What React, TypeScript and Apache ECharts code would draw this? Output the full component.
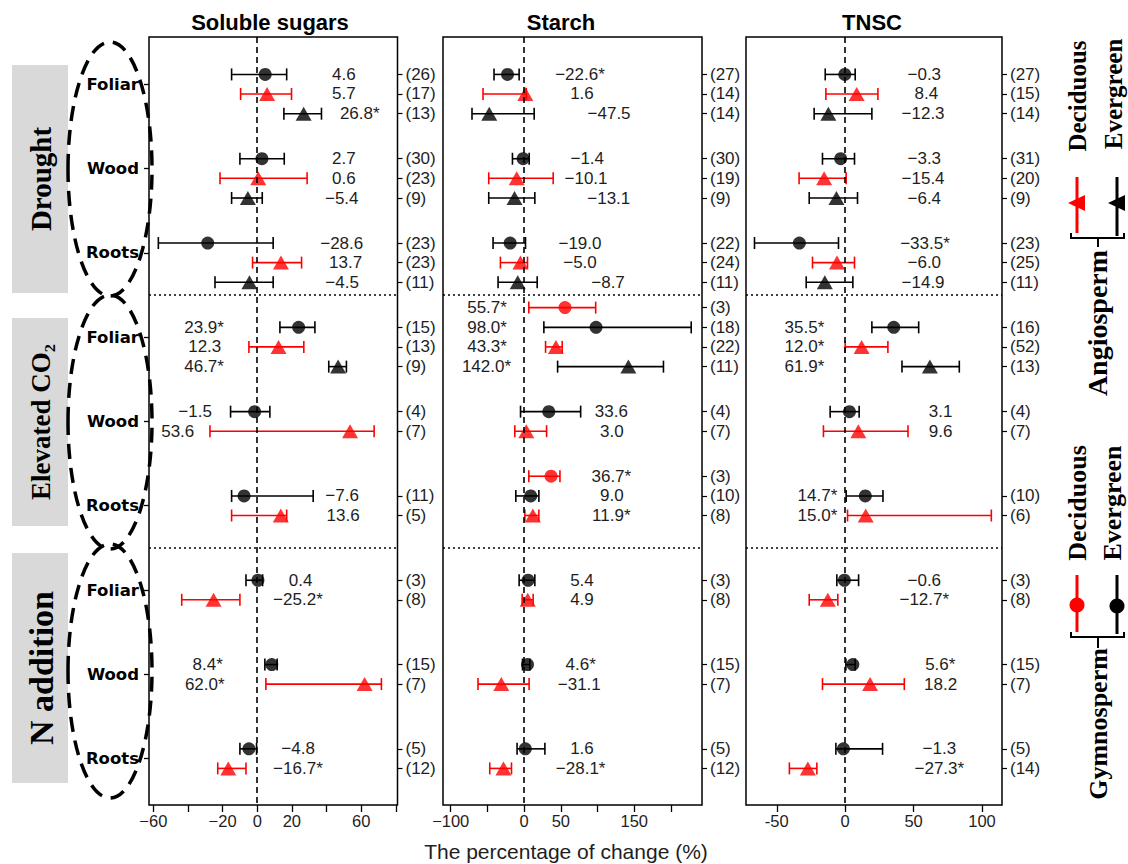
import React, { useEffect, useRef } from 'react';
import * as echarts from 'echarts';

// ---------------- DATA ----------------
const PANEL_TITLES = ['Soluble sugars', 'Starch', 'TNSC'];
const ORGAN_LABELS = ['Foliar', 'Wood', 'Roots', 'Foliar', 'Wood', 'Roots', 'Foliar', 'Wood', 'Roots'];
const TREATMENTS = ['Drought', 'Elevated CO\u2082', 'N addition'];
const X_AXIS_NAME = 'The percentage of change (%)';

// plant types: gd gymnosperm deciduous, ge gymnosperm evergreen, ad angiosperm deciduous, ae angiosperm evergreen
// Soluble sugars
const sugarGroup = [0, 0, 0, 1, 1, 1, 2, 2, 2, 3, 3, 3, 4, 4, 5, 5, 6, 6, 7, 7, 8, 8];
const sugarType = ['ge', 'ad', 'ae', 'ge', 'ad', 'ae', 'ge', 'ad', 'ae', 'ge', 'ad', 'ae', 'ge', 'ad', 'ge', 'ad', 'ge', 'ad', 'ge', 'ad', 'ge', 'ad'];
const sugarMean = [4.6, 5.7, 26.8, 2.7, 0.6, -5.4, -28.6, 13.7, -4.5, 23.9, 12.3, 46.7, -1.5, 53.6, -7.6, 13.6, 0.4, -25.2, 8.4, 62.0, -4.8, -16.7];
const sugarLow = [-14.8, -9.6, 15.4, -10.0, -21.5, -14.8, -57.1, -2.7, -24.4, 13.1, -4.8, 41.3, -15.4, -27.3, -14.8, -14.8, -6.5, -43.6, 4.4, 5.0, -10.0, -22.8];
const sugarHigh = [17.0, 19.8, 37.1, 15.6, 28.8, 2.9, 9.2, 25.6, 9.2, 33.3, 26.9, 51.5, 7.3, 67.5, 32.3, 17.0, 3.1, -10.0, 11.5, 71.7, -0.4, -6.5];
const sugarSig = [0, 0, 1, 0, 0, 0, 0, 0, 0, 1, 0, 1, 0, 0, 0, 0, 0, 1, 1, 1, 0, 1];
const sugarN = [26, 17, 13, 30, 23, 9, 23, 23, 11, 15, 13, 9, 4, 7, 11, 5, 3, 8, 15, 7, 5, 12];

// Starch
const starchGroup = [0, 0, 0, 1, 1, 1, 2, 2, 2, 3, 3, 3, 3, 4, 4, 5, 5, 5, 6, 6, 7, 7, 8, 8];
const starchType = ['ge', 'ad', 'ae', 'ge', 'ad', 'ae', 'ge', 'ad', 'ae', 'gd', 'ge', 'ad', 'ae', 'ge', 'ad', 'gd', 'ge', 'ad', 'ge', 'ad', 'ge', 'ad', 'ge', 'ad'];
const starchMean = [-22.6, 1.6, -47.5, -1.4, -10.1, -13.1, -19.0, -5.0, -8.7, 55.7, 98.0, 43.3, 142.0, 33.6, 3.0, 36.7, 9.0, 11.9, 5.4, 4.9, 4.6, -31.1, 1.6, -28.1];
const starchLow = [-41.0, -56.0, -71.0, -15.9, -48.2, -48.2, -42.3, -32.3, -35.5, 6.4, 26.9, 29.2, 45.6, -4.9, -12.7, 6.4, -11.3, 1.0, -6.8, -2.7, -2.2, -62.8, -9.6, -46.8];
const starchHigh = [-6.8, 3.0, 13.7, 6.9, 39.6, 14.6, 1.9, 4.6, 17.8, 97.5, 227.6, 51.9, 189.8, 77.0, 30.6, 48.8, 20.1, 20.1, 14.6, 12.3, 7.8, 6.8, 28.3, -17.2];
const starchSig = [1, 0, 0, 0, 0, 0, 0, 0, 0, 1, 1, 1, 1, 0, 0, 1, 0, 1, 0, 0, 1, 0, 0, 1];
const starchN = [27, 14, 14, 30, 19, 9, 22, 24, 11, 3, 18, 22, 11, 4, 7, 3, 10, 8, 3, 8, 15, 7, 5, 12];

// TNSC
const tnscGroup = [0, 0, 0, 1, 1, 1, 2, 2, 2, 3, 3, 3, 4, 4, 5, 5, 6, 6, 7, 7, 8, 8];
const tnscType = ['ge', 'ad', 'ae', 'ge', 'ad', 'ae', 'ge', 'ad', 'ae', 'ge', 'ad', 'ae', 'ge', 'ad', 'ge', 'ad', 'ge', 'ad', 'ge', 'ad', 'ge', 'ad'];
const tnscMean = [-0.3, 8.4, -12.3, -3.3, -15.4, -6.4, -33.5, -6.0, -14.9, 35.5, 12.0, 61.9, 3.1, 9.6, 14.7, 15.0, -0.6, -12.7, 5.6, 18.2, -1.3, -27.3];
const tnscLow = [-14.6, -14.1, -22.7, -16.6, -33.7, -26.3, -66.3, -23.9, -28.5, 19.5, 0.0, 41.5, -11.0, -15.9, 0.7, 1.7, -6.1, -26.3, 0.5, -16.6, -6.8, -40.8];
const tnscHigh = [7.3, 23.9, 19.5, 6.8, 0.7, 9.0, -4.9, 6.8, 5.6, 53.7, 31.2, 83.4, 10.2, 45.9, 27.6, 106.8, 9.8, -5.4, 7.3, 43.2, 27.3, -20.7];
const tnscSig = [0, 0, 0, 0, 0, 0, 1, 0, 0, 1, 1, 1, 0, 0, 1, 1, 0, 1, 1, 0, 0, 1];
const tnscN = [27, 15, 14, 31, 20, 9, 23, 25, 11, 16, 52, 13, 4, 7, 10, 6, 3, 8, 15, 7, 5, 14];

// axis ticks
const X_TICKS = [
  [-60, -40, -20, 0, 20, 40, 60, 80],
  [-100, -50, 0, 50, 100, 150, 200],
  [-50, 0, 50, 100],
];
const X_TICK_LABELS = [
  [-60, -20, 0, 20, 60],
  [-100, 0, 50, 150],
  [-50, 0, 50, 100],
];

// ---------------- LAYOUT (positions, not data) ----------------
const X_MIN = [-62.5, -110.5, -72.5];
const X_MAX = [81, 242.3, 114.6];
const Y_MIN = -0.56;
const Y_MAX = 8.55;
const GRID_LEFT = [149, 443, 746];
const GRID_WIDTH = [248.5, 259, 256];
const GRID_TOP = 37;
const GRID_HEIGHT = 768;
const TITLE_X = [270, 561, 872];
const TYPE_OFFSET: Record<string, number> = { gd: -0.35, ge: -0.116, ad: 0.116, ae: 0.35 };
// x position (data units) where each value text is centred
const sugarLabelX = [50, 50, 59.2, 50, 50, 48.8, 48.8, 51, 49, -30.7, -30.3, -30.7, -35.9, -45.9, 49, 49.6, 25, 23.5, -28.6, -30.3, 23.6, 23.5];
const starchLabelX = [76.1, 78.8, 115.7, 86.0, 84.3, 115.3, 76.1, 76.1, 114.3, -50.5, -50.5, -50.5, -51.3, 118.8, 119.4, 118.8, 119.4, 118.8, 78.8, 78.8, 77.0, 75.1, 78.8, 77.0];
const tnscLabelX = [57.8, 59.3, 56.9, 57.8, 56.9, 57.8, 58.3, 57.8, 56.9, -29.8, -29.8, -29.8, 69.7, 69.7, -20.3, -20.3, 57.8, 57.8, 69.5, 69.7, 68.8, 68.8];

const RED = '#ff0000';
const BLACK = '#000000';
const TEXT = '#1e1e1e';
const SANS = '"Liberation Sans", Arial, sans-serif';
const WIDE = '"DejaVu Sans", Verdana, sans-serif';
const SERIF = '"Liberation Serif", "Times New Roman", serif';

const TYPE_SYMBOL: Record<string, string> = { gd: 'circle', ge: 'circle', ad: 'triangle', ae: 'triangle' };
const TYPE_COLOR: Record<string, string> = { gd: RED, ge: BLACK, ad: RED, ae: BLACK };

const PANELS = [
  { group: sugarGroup, type: sugarType, mean: sugarMean, low: sugarLow, high: sugarHigh, sig: sugarSig, n: sugarN, labelX: sugarLabelX },
  { group: starchGroup, type: starchType, mean: starchMean, low: starchLow, high: starchHigh, sig: starchSig, n: starchN, labelX: starchLabelX },
  { group: tnscGroup, type: tnscType, mean: tnscMean, low: tnscLow, high: tnscHigh, sig: tnscSig, n: tnscN, labelX: tnscLabelX },
];

const fmtValue = (v: number, sig: number) => (v < 0 ? '\u2212' : '') + Math.abs(v).toFixed(1) + (sig ? '*' : '');

function buildOption() {
  const grid: any[] = [];
  const xAxis: any[] = [];
  const yAxis: any[] = [];
  const series: any[] = [];

  PANELS.forEach((P, p) => {
    const ys = P.group.map((g, i) => +(g + TYPE_OFFSET[P.type[i]]).toFixed(3));
    const nMap = new Map<string, string>();
    ys.forEach((y, i) => nMap.set(y.toFixed(3), '(' + P.n[i] + ')'));

    grid.push({
      left: GRID_LEFT[p], top: GRID_TOP, width: GRID_WIDTH[p], height: GRID_HEIGHT,
      show: true, borderColor: '#000', borderWidth: 1.5, backgroundColor: 'transparent',
    });
    xAxis.push({
      gridIndex: p, type: 'value', min: X_MIN[p], max: X_MAX[p], position: 'bottom',
      splitLine: { show: false }, axisLine: { show: false, onZero: false },
      axisTick: { show: true, customValues: X_TICKS[p], length: 7, lineStyle: { color: '#000', width: 1.3 } },
      axisLabel: {
        customValues: X_TICK_LABELS[p], fontSize: 16.5, fontFamily: SANS, color: TEXT, margin: 7,
        formatter: (v: number) => (v < 0 ? (p === 2 ? '-' : '\u2212') : '') + Math.abs(v),
      },
    });
    yAxis.push({
      gridIndex: p, type: 'value', min: Y_MIN, max: Y_MAX, inverse: true, position: 'left',
      splitLine: { show: false }, axisLine: { show: false, onZero: false },
      axisTick: p === 0 ? { show: true, customValues: [0, 1, 2, 3, 4, 5, 6, 7, 8], length: 5, lineStyle: { color: '#000', width: 1.3 } } : { show: false },
      axisLabel: p === 0 ? {
        customValues: [0, 1, 2, 3, 4, 5, 6, 7, 8], fontSize: 16.5, fontWeight: 'bold', fontFamily: WIDE, color: '#000', margin: 10,
        formatter: (v: number) => ORGAN_LABELS[Math.round(v)],
      } : { show: false },
    });
    yAxis.push({
      gridIndex: p, type: 'value', min: Y_MIN, max: Y_MAX, inverse: true, position: 'right',
      splitLine: { show: false }, axisLine: { show: false, onZero: false },
      axisTick: { show: true, customValues: ys, length: 5, lineStyle: { color: '#000', width: 1.2 } },
      axisLabel: {
        customValues: ys, fontSize: 17, fontFamily: SANS, color: TEXT, margin: 8,
        formatter: (v: number) => nMap.get((+v).toFixed(3)) || '',
      },
    });

    // error bars
    series.push({
      type: 'custom', xAxisIndex: p, yAxisIndex: 2 * p, z: 3,
      encode: { x: [0, 1], y: 2 },
      data: ys.map((y, i) => [P.low[i], P.high[i], y, TYPE_COLOR[P.type[i]] === RED ? 1 : 0]),
      renderItem: (params: any, api: any) => {
        const a = api.coord([api.value(0), api.value(2)]);
        const b = api.coord([api.value(1), api.value(2)]);
        const c = api.value(3) ? RED : BLACK;
        const st = { stroke: c, lineWidth: 1.6 };
        const cap = 6;
        return {
          type: 'group',
          children: [
            { type: 'line', shape: { x1: a[0], y1: a[1], x2: b[0], y2: b[1] }, style: st },
            { type: 'line', shape: { x1: a[0], y1: a[1] - cap, x2: a[0], y2: a[1] + cap }, style: st },
            { type: 'line', shape: { x1: b[0], y1: b[1] - cap, x2: b[0], y2: b[1] + cap }, style: st },
          ],
        };
      },
    });
    // points + reference lines
    series.push({
      type: 'scatter', xAxisIndex: p, yAxisIndex: 2 * p, z: 4,
      data: ys.map((y, i) => ({
        value: [P.mean[i], y],
        symbol: TYPE_SYMBOL[P.type[i]],
        symbolSize: TYPE_SYMBOL[P.type[i]] === 'circle' ? 13 : [16, 14],
        itemStyle: { color: TYPE_COLOR[P.type[i]] },
      })),
      markLine: {
        silent: true, symbol: ['none', 'none'], label: { show: false }, animation: false,
        data: [
          { xAxis: 0, lineStyle: { color: '#000', width: 1.6, type: [6, 4] } },
          { yAxis: 2.5, lineStyle: { color: '#000', width: 1.5, type: [2, 3] } },
          { yAxis: 5.5, lineStyle: { color: '#000', width: 1.5, type: [2, 3] } },
        ],
      },
    });
    // value labels
    series.push({
      type: 'custom', xAxisIndex: p, yAxisIndex: 2 * p, z: 5,
      encode: { x: 0, y: 1 },
      data: ys.map((y, i) => [P.labelX[i], y]),
      renderItem: (params: any, api: any) => {
        const pt = api.coord([api.value(0), api.value(1)]);
        const i = params.dataIndex;
        return {
          type: 'text', x: pt[0], y: pt[1],
          style: {
            text: fmtValue(P.mean[i], P.sig[i]), fill: TEXT, font: '17px ' + SANS,
            align: 'center', verticalAlign: 'middle', textAlign: 'center', textVerticalAlign: 'middle',
          },
        };
      },
    });
  });

  const txt = (text: string, x: number, y: number, font: string, rotation = 0, fill = '#000') => ({
    type: 'text', x, y, rotation, z: 10,
    style: { text, font, fill, align: 'center', verticalAlign: 'middle', textAlign: 'center', textVerticalAlign: 'middle' },
  });
  const ln = (x1: number, y1: number, x2: number, y2: number, stroke: string, lineWidth: number) => ({
    type: 'line', z: 10, shape: { x1, y1, x2, y2 }, style: { stroke, lineWidth },
  });

  const graphic: any[] = [];
  // treatment boxes
  const boxes = [[65, 228], [318, 208], [553, 230]];
  const boxFonts = ['bold 29px ' + SERIF, 'bold 27px ' + SERIF, 'bold 34px ' + SERIF];
  boxes.forEach(([y, h], k) => {
    graphic.push({ type: 'rect', z: 8, shape: { x: 12, y, width: 56, height: h }, style: { fill: '#d9d9d9' } });
    graphic.push(txt(TREATMENTS[k], 41, y + h / 2, boxFonts[k], Math.PI / 2));
  });
  // dashed ellipses
  [169, 422, 671].forEach((cy) => {
    graphic.push({
      type: 'ellipse', z: 11, shape: { cx: 110, cy, rx: 42, ry: 127 },
      style: { fill: 'none', stroke: '#000', lineWidth: 3.5, lineDash: [15, 9] },
    });
  });
  // titles
  PANEL_TITLES.forEach((t, p) => graphic.push(txt(t, TITLE_X[p], 22, 'bold 22px ' + SANS)));
  graphic.push(txt(X_AXIS_NAME, 566, 851, '21px ' + SANS, 0, TEXT));

  // legend: angiosperm
  const LF = 'bold 25px ' + SERIF;
  graphic.push(txt('Deciduous', 1077, 96, LF, Math.PI / 2));
  graphic.push(txt('Evergreen', 1113, 94, LF, Math.PI / 2));
  graphic.push(ln(1077, 177, 1077, 233, RED, 3));
  graphic.push(ln(1117, 177, 1117, 236, BLACK, 3));
  graphic.push({ type: 'polygon', z: 10, shape: { points: [[1068, 203], [1085, 195], [1085, 211]] }, style: { fill: RED } });
  graphic.push({ type: 'polygon', z: 10, shape: { points: [[1108, 203], [1125, 195], [1125, 211]] }, style: { fill: BLACK } });
  graphic.push({ type: 'polyline', z: 10, shape: { points: [[1071, 233], [1071, 238], [1124, 238], [1124, 233]] }, style: { stroke: BLACK, lineWidth: 2, fill: 'none' } });
  graphic.push(ln(1098, 238, 1098, 247, BLACK, 2));
  graphic.push(txt('Angiosperm', 1097, 323, 'bold 28px ' + SERIF, Math.PI / 2));
  // legend: gymnosperm
  graphic.push(txt('Deciduous', 1077, 503, 'bold 26px ' + SERIF, Math.PI / 2));
  graphic.push(txt('Evergreen', 1112, 503, 'bold 26px ' + SERIF, Math.PI / 2));
  graphic.push(ln(1077, 575, 1077, 632, RED, 3));
  graphic.push(ln(1117, 575, 1117, 634, BLACK, 3));
  graphic.push({ type: 'circle', z: 10, shape: { cx: 1077, cy: 605, r: 7.5 }, style: { fill: RED } });
  graphic.push({ type: 'circle', z: 10, shape: { cx: 1117, cy: 606, r: 7.5 }, style: { fill: BLACK } });
  graphic.push({ type: 'polyline', z: 10, shape: { points: [[1071, 632], [1071, 637], [1124, 637], [1124, 632]] }, style: { stroke: BLACK, lineWidth: 2, fill: 'none' } });
  graphic.push(ln(1098, 637, 1098, 648, BLACK, 2));
  graphic.push(txt('Gymnosperm', 1098, 724, 'bold 26px ' + SERIF, Math.PI / 2));

  return {
    animation: false,
    backgroundColor: '#ffffff',
    grid, xAxis, yAxis, series, graphic,
  };
}

export default function App() {
  const ref = useRef<HTMLDivElement>(null);
  useEffect(() => {
    const chart = echarts.init(ref.current!, null, { renderer: 'svg' });
    chart.setOption(buildOption() as any);
    return () => chart.dispose();
  }, []);
  return (
    <div
      ref={ref}
      style={{ position: 'fixed', left: 0, top: 0, width: 1128, height: 864, background: '#fff' }}
    />
  );
}
